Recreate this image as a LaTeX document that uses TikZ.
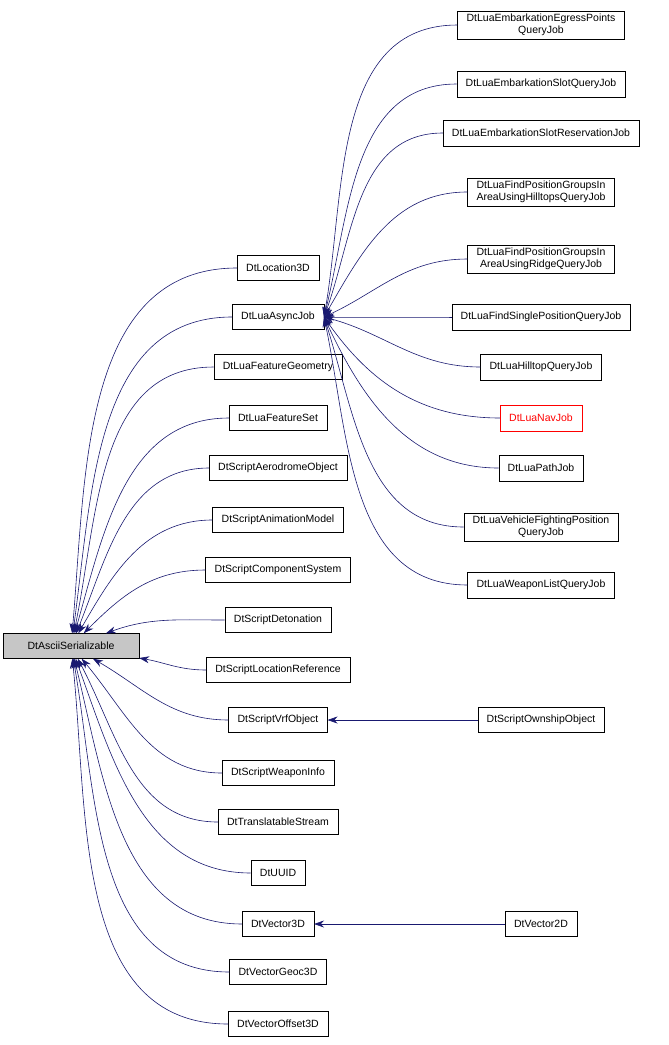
\documentclass[tikz,border=0pt]{standalone}
\usepackage{fontspec}
\setmainfont{Liberation Sans}
\usepackage{xcolor}
\usetikzlibrary{arrows.meta,positioning}
\definecolor{edgeblue}{HTML}{191970}
\tikzset{
    cls/.style={draw=black, fill=white, font=\fontsize{10.5}{12}\selectfont, inner xsep=9pt, inner ysep=3pt, align=center, minimum height=25pt},
    edge/.style={draw=edgeblue, semithick, {Stealth[length=10pt,width=7pt,fill=edgeblue]}-},
}
\begin{document}
\begin{tikzpicture}[x=1pt,y=1pt]
    \useasboundingbox (0,0) rectangle (669,-1045);
    % Base class
    \node[cls, fill=gray!45, minimum width=136pt] (root) at (71,-646) {DtAsciiSerializable};

    % Direct children
    \foreach \name/\y/\txt/\ang in {
        loc/268/DtLocation3D/85,
        async/317/DtLuaAsyncJob/82,
        geom/367/DtLuaFeatureGeometry/78,
        fset/418/DtLuaFeatureSet/74,
        aero/468/DtScriptAerodromeObject/68,
        anim/520/DtScriptAnimationModel/60,
        comp/570/DtScriptComponentSystem/45,
        deto/620/DtScriptDetonation/20,
        locref/670/DtScriptLocationReference/-10,
        vrf/720/DtScriptVrfObject/-30,
        weap/773/DtScriptWeaponInfo/-50,
        trans/822/DtTranslatableStream/-62,
        uuid/873/DtUUID/-70,
        vec/924/DtVector3D/-76,
        geoc/972/DtVectorGeoc3D/-80,
        offs/1024/DtVectorOffset3D/-84} {
        \node[cls] (\name) at (278,-\y) {\txt};
        \draw[edge] (root) to[out=\ang, in=180] (\name.west);
    }

    % Lua jobs
    \foreach \name/\y/\txt/\ang in {
        egress/25/{DtLuaEmbarkationEgressPoints\\QueryJob}/80,
        slot/84/DtLuaEmbarkationSlotQueryJob/76,
        resv/133/DtLuaEmbarkationSlotReservationJob/70,
        hill/192/{DtLuaFindPositionGroupsIn\\AreaUsingHilltopsQueryJob}/60,
        ridge/259/{DtLuaFindPositionGroupsIn\\AreaUsingRidgeQueryJob}/25,
        single/317/DtLuaFindSinglePositionQueryJob/0,
        htop/367/DtLuaHilltopQueryJob/-15,
        nav/418/DtLuaNavJob/-55,
        path/468/DtLuaPathJob/-65,
        vfp/527/{DtLuaVehicleFightingPosition\\QueryJob}/-72,
        wlist/585/DtLuaWeaponListQueryJob/-78} {
        \node[cls, minimum height=26pt] (\name) at (541,-\y) {\txt};
        \draw[edge] (async.east) to[out=\ang, in=180] (\name.west);
    }
    \draw[red, fill=white] (nav.south west) rectangle (nav.north east);
    \node[font=\fontsize{10.5}{12}\selectfont, text=red] at (nav) {DtLuaNavJob};

    % Further leaves
    \node[cls] (own) at (541,-720) {DtScriptOwnshipObject};
    \node[cls] (vec2) at (541,-924) {DtVector2D};
    \draw[edge] (vrf) -- (own);
    \draw[edge] (vec) -- (vec2);
\end{tikzpicture}
\end{document}
